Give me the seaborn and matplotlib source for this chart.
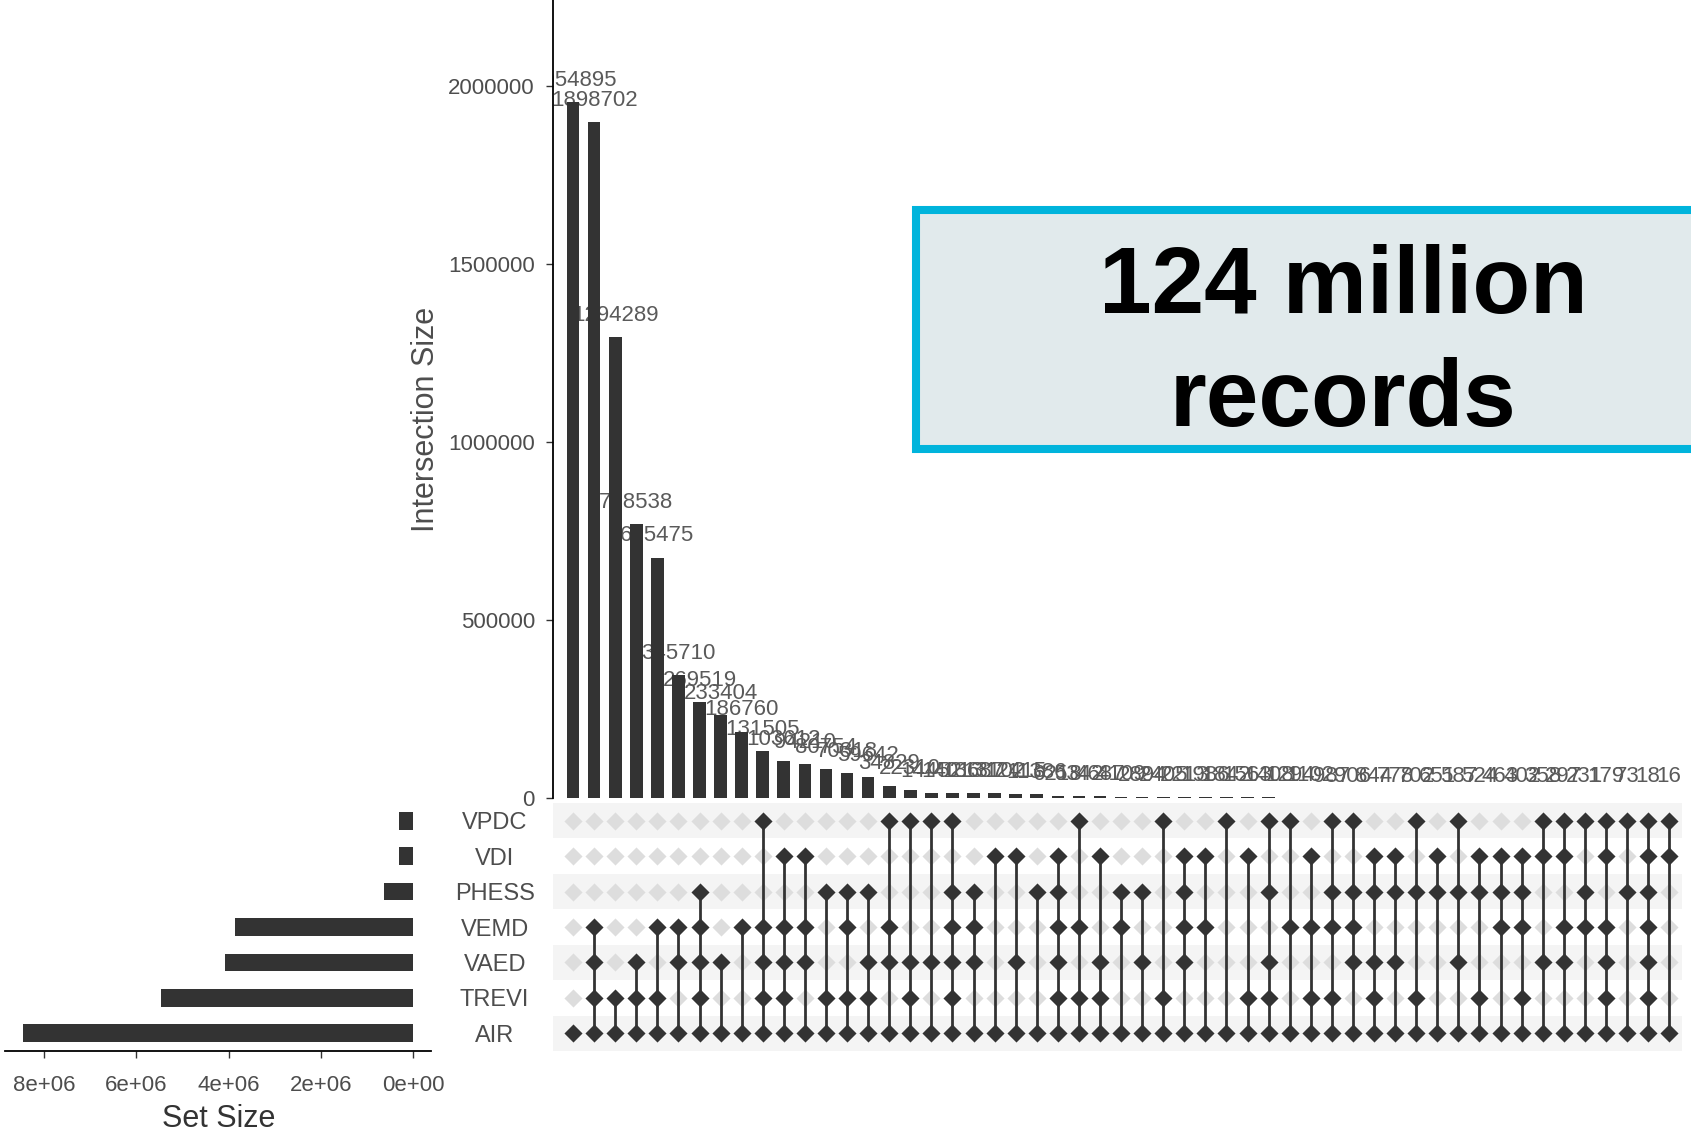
import matplotlib
matplotlib.use("Agg")
import matplotlib.pyplot as plt
import seaborn as sns
import numpy as np
import pandas as pd
from matplotlib.patches import Rectangle
from matplotlib.ticker import FuncFormatter

# ---------------- data ----------------
sets = ["VPDC", "VDI", "PHESS", "VEMD", "VAED", "TREVI", "AIR"]
set_sizes = [300000, 300000, 620000, 3860000, 4070000, 5470000, 8450000]

intersection_sizes = [1954895, 1898702, 1294289, 768538, 675475, 345710, 269519,
                      233404, 186760, 131505, 103612, 94210, 80754, 70318, 59642,
                      34829, 22310, 14452, 14013, 13687, 13102, 12415, 11386, 6218,
                      5342, 4687, 4109, 2894, 2405, 2213, 1986, 1842, 1563, 1408,
                      1294, 1102, 987, 906, 844, 778, 702, 651, 587, 524, 463, 402,
                      358, 297, 231, 179, 73, 18, 16]

intersection_members = [
    ["AIR"],
    ["VEMD", "VAED", "TREVI", "AIR"],
    ["TREVI", "AIR"],
    ["VAED", "TREVI", "AIR"],
    ["VEMD", "TREVI", "AIR"],
    ["VEMD", "VAED", "AIR"],
    ["PHESS", "VEMD", "VAED", "TREVI", "AIR"],
    ["VAED", "AIR"],
    ["VEMD", "AIR"],
    ["VPDC", "VEMD", "VAED", "TREVI", "AIR"],
    ["VDI", "VEMD", "VAED", "TREVI", "AIR"],
    ["VDI", "VEMD", "VAED", "AIR"],
    ["PHESS", "TREVI", "AIR"],
    ["PHESS", "VEMD", "TREVI", "AIR"],
    ["PHESS", "VAED", "TREVI", "AIR"],
    ["VPDC", "VEMD", "VAED", "AIR"],
    ["VPDC", "VAED", "TREVI", "AIR"],
    ["VPDC", "VAED", "AIR"],
    ["VPDC", "PHESS", "VEMD", "VAED", "TREVI", "AIR"],
    ["PHESS", "VEMD", "VAED", "AIR"],
    ["VDI", "AIR"],
    ["VDI", "VAED", "AIR"],
    ["PHESS", "AIR"],
    ["VDI", "PHESS", "VEMD", "VAED", "TREVI", "AIR"],
    ["VPDC", "VEMD", "TREVI", "AIR"],
    ["VDI", "VAED", "TREVI", "AIR"],
    ["PHESS", "VEMD", "AIR"],
    ["PHESS", "VAED", "AIR"],
    ["VPDC", "TREVI", "AIR"],
    ["VDI", "PHESS", "VEMD", "VAED", "AIR"],
    ["VDI", "VEMD", "AIR"],
    ["VPDC", "AIR"],
    ["VDI", "TREVI", "AIR"],
    ["VPDC", "PHESS", "VAED", "TREVI", "AIR"],
    ["VPDC", "VEMD", "AIR"],
    ["VDI", "VEMD", "TREVI", "AIR"],
    ["VPDC", "PHESS", "VEMD", "TREVI", "AIR"],
    ["VPDC", "PHESS", "VEMD", "VAED", "AIR"],
    ["VDI", "PHESS", "VAED", "TREVI", "AIR"],
    ["VDI", "PHESS", "VAED", "AIR"],
    ["VPDC", "PHESS", "TREVI", "AIR"],
    ["VDI", "PHESS", "AIR"],
    ["VPDC", "PHESS", "VAED", "AIR"],
    ["VDI", "PHESS", "TREVI", "AIR"],
    ["VDI", "PHESS", "VEMD", "AIR"],
    ["VDI", "PHESS", "VEMD", "TREVI", "AIR"],
    ["VPDC", "VDI", "VAED", "AIR"],
    ["VPDC", "VDI", "VEMD", "VAED", "AIR"],
    ["VPDC", "PHESS", "VEMD", "AIR"],
    ["VPDC", "VDI", "VEMD", "VAED", "TREVI", "AIR"],
    ["VPDC", "PHESS", "AIR"],
    ["VPDC", "VDI", "PHESS", "VEMD", "VAED", "TREVI", "AIR"],
    ["VPDC", "VDI", "AIR"],
]

inter_yticks = [0, 500000, 1000000, 1500000, 2000000]
set_xticks = [8e6, 6e6, 4e6, 2e6, 0]
box_lines = ["124 million", "records"]

# ---------------- style ----------------
sns.set_style("white")
plt.rcParams["font.family"] = ["Liberation Sans", "DejaVu Sans"]

W, H = 1691, 1134
fig = plt.figure(figsize=(W / 100, H / 100), dpi=100)


def px_axes(x0, y0, x1, y1):
    return fig.add_axes([x0 / W, 1 - y1 / H, (x1 - x0) / W, (y1 - y0) / H])


ax_bar = px_axes(553, 0, 1682, 798)
ax_mat = px_axes(553, 803, 1682, 1051)
ax_set = px_axes(5, 803, 431, 1051)

DARK = "#333333"
n = len(intersection_sizes)
XL = (-0.95, n - 1 + 0.61)

# ---------------- intersection bars ----------------
df_int = pd.DataFrame({"col": np.arange(n), "size": intersection_sizes})
sns.barplot(data=df_int, x="col", y="size", color=DARK, saturation=1,
            width=0.6, ax=ax_bar, edgecolor="none")
for p in ax_bar.containers[0]:
    p.set_zorder(2)
labs = ax_bar.bar_label(ax_bar.containers[0],
                        labels=[str(v) for v in intersection_sizes],
                        padding=8, fontsize=16, color="#5a5a5a")
for t in labs:
    t.set_clip_on(True)
    t.set_clip_path(ax_bar.patch)
    t.set_zorder(1)
ax_bar.set_xlim(*XL)
ax_bar.set_ylim(0, 2.2416e6)
ax_bar.set_xticks([])
ax_bar.set_xlabel("")
ax_bar.set_yticks(inter_yticks)
ax_bar.yaxis.set_major_formatter(FuncFormatter(lambda v, p: f"{int(v)}"))
ax_bar.tick_params(axis="y", left=True, length=5, width=1, color=DARK,
                   labelsize=16, labelcolor="#4d4d4d", pad=8)
for s in ["top", "right", "bottom"]:
    ax_bar.spines[s].set_visible(False)
ax_bar.spines["left"].set_color("black")
ax_bar.spines["left"].set_linewidth(1.3)
ax_bar.spines["left"].set_zorder(3)
ax_bar.set_ylabel("Intersection Size", fontsize=22, color="#4d4d4d")
ax_bar.yaxis.set_label_coords(-0.099, 0.475)

# ---------------- matrix ----------------
for r in range(len(sets)):
    if r % 2 == 0:
        ax_mat.axhspan(r - 0.5, r + 0.5, color="#f4f4f4", zorder=0, lw=0)

grid = pd.DataFrame([(c, r, sets[r] in intersection_members[c])
                     for c in range(n) for r in range(len(sets))],
                    columns=["col", "row", "active"])
sns.scatterplot(data=grid[~grid["active"]], x="col", y="row", color="#dddddd",
                marker="D", s=85, linewidth=0, ax=ax_mat, zorder=2)
for c, members in enumerate(intersection_members):
    rows = [sets.index(m) for m in members]
    ax_mat.plot([c, c], [min(rows), max(rows)], color=DARK, lw=2, zorder=3)
sns.scatterplot(data=grid[grid["active"]], x="col", y="row", color=DARK,
                marker="D", s=85, linewidth=0, ax=ax_mat, zorder=4)
ax_mat.set_xlim(*XL)
ax_mat.set_ylim(len(sets) - 0.5, -0.5)
ax_mat.set_xticks([])
ax_mat.set_xlabel("")
ax_mat.set_ylabel("")
ax_mat.set_yticks(range(len(sets)))
ax_mat.set_yticklabels(sets, ha="center", fontsize=17, color="#4d4d4d")
ax_mat.tick_params(axis="y", left=False, length=0, pad=42)
for s in ax_mat.spines.values():
    s.set_visible(False)

# ---------------- set size bars ----------------
df_set = pd.DataFrame({"set": sets, "size": set_sizes})
sns.barplot(data=df_set, x="size", y="set", orient="h", color=DARK,
            saturation=1, width=0.5, ax=ax_set, edgecolor="none")
ax_set.set_xlim(8.846e6, -0.39e6)
ax_set.set_ylim(len(sets) - 0.5, -0.5)
ax_set.set_yticks([])
ax_set.set_ylabel("")
ax_set.set_xticks(set_xticks)
ax_set.xaxis.set_major_formatter(FuncFormatter(lambda v, p: f"{v:.0e}"))
ax_set.tick_params(axis="x", bottom=True, length=5, width=1, color=DARK,
                   labelsize=16, labelcolor="#4d4d4d", pad=12)
for s in ["top", "right", "left"]:
    ax_set.spines[s].set_visible(False)
ax_set.spines["bottom"].set_color("black")
ax_set.spines["bottom"].set_linewidth(1.3)
ax_set.set_xlabel("Set Size", fontsize=22, color="#333333")
ax_set.xaxis.set_label_coords(0.502, -0.215)

# ---------------- annotation box ----------------
fig.patches.append(Rectangle((916 / W, 1 - 449 / H), 0.6, (449 - 210) / H,
                             transform=fig.transFigure, facecolor="#e1eaec",
                             edgecolor="#00b4dc", linewidth=5.8, zorder=5))
fig.text(1343 / W, 1 - 313 / H, box_lines[0], ha="center", va="baseline",
         fontsize=68, fontweight="bold", color="black", zorder=6)
fig.text(1343 / W, 1 - 426 / H, box_lines[1], ha="center", va="baseline",
         fontsize=68, fontweight="bold", color="black", zorder=6)

fig.savefig("out.png", dpi=100)
